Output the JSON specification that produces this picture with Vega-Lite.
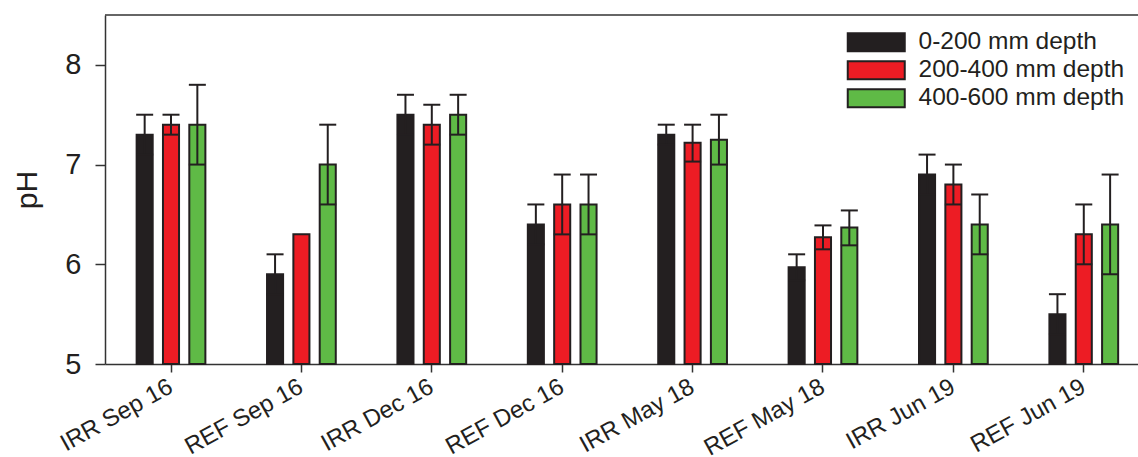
{
  "$schema": "https://vega.github.io/schema/vega-lite/v6.json",
  "width": 1033,
  "height": 349,
  "autosize": {"type": "none"},
  "padding": {"left": 105, "top": 15, "right": 0, "bottom": 93},
  "background": "white",
  "config": {
    "view": {"stroke": null},
    "font": "Liberation Sans",
    "axis": {"domainColor": "#333333", "domainWidth": 1.5, "tickColor": "#333333", "tickWidth": 1.5, "grid": false, "labelColor": "#231f20", "titleColor": "#231f20", "labelLimit": 400}
  },
  "data": {
    "values": [
      {"cat": "IRR Sep 16", "depth": "0-200 mm depth", "ph": 7.3, "lo": 7.1, "hi": 7.5},
      {"cat": "IRR Sep 16", "depth": "200-400 mm depth", "ph": 7.4, "lo": 7.3, "hi": 7.5},
      {"cat": "IRR Sep 16", "depth": "400-600 mm depth", "ph": 7.4, "lo": 7.0, "hi": 7.8},
      {"cat": "REF Sep 16", "depth": "0-200 mm depth", "ph": 5.9, "lo": 5.7, "hi": 6.1},
      {"cat": "REF Sep 16", "depth": "200-400 mm depth", "ph": 6.3, "lo": null, "hi": null},
      {"cat": "REF Sep 16", "depth": "400-600 mm depth", "ph": 7.0, "lo": 6.6, "hi": 7.4},
      {"cat": "IRR Dec 16", "depth": "0-200 mm depth", "ph": 7.5, "lo": 7.3, "hi": 7.7},
      {"cat": "IRR Dec 16", "depth": "200-400 mm depth", "ph": 7.4, "lo": 7.2, "hi": 7.6},
      {"cat": "IRR Dec 16", "depth": "400-600 mm depth", "ph": 7.5, "lo": 7.3, "hi": 7.7},
      {"cat": "REF Dec 16", "depth": "0-200 mm depth", "ph": 6.4, "lo": 6.2, "hi": 6.6},
      {"cat": "REF Dec 16", "depth": "200-400 mm depth", "ph": 6.6, "lo": 6.3, "hi": 6.9},
      {"cat": "REF Dec 16", "depth": "400-600 mm depth", "ph": 6.6, "lo": 6.3, "hi": 6.9},
      {"cat": "IRR May 18", "depth": "0-200 mm depth", "ph": 7.3, "lo": 7.2, "hi": 7.4},
      {"cat": "IRR May 18", "depth": "200-400 mm depth", "ph": 7.22, "lo": 7.03, "hi": 7.4},
      {"cat": "IRR May 18", "depth": "400-600 mm depth", "ph": 7.25, "lo": 7.0, "hi": 7.5},
      {"cat": "REF May 18", "depth": "0-200 mm depth", "ph": 5.97, "lo": 5.84, "hi": 6.1},
      {"cat": "REF May 18", "depth": "200-400 mm depth", "ph": 6.27, "lo": 6.15, "hi": 6.39},
      {"cat": "REF May 18", "depth": "400-600 mm depth", "ph": 6.37, "lo": 6.19, "hi": 6.54},
      {"cat": "IRR Jun 19", "depth": "0-200 mm depth", "ph": 6.9, "lo": 6.7, "hi": 7.1},
      {"cat": "IRR Jun 19", "depth": "200-400 mm depth", "ph": 6.8, "lo": 6.6, "hi": 7.0},
      {"cat": "IRR Jun 19", "depth": "400-600 mm depth", "ph": 6.4, "lo": 6.1, "hi": 6.7},
      {"cat": "REF Jun 19", "depth": "0-200 mm depth", "ph": 5.5, "lo": 5.3, "hi": 5.7},
      {"cat": "REF Jun 19", "depth": "200-400 mm depth", "ph": 6.3, "lo": 6.0, "hi": 6.6},
      {"cat": "REF Jun 19", "depth": "400-600 mm depth", "ph": 6.4, "lo": 5.9, "hi": 6.9}
    ]
  },
  "layer": [
    {
      "mark": {"type": "bar", "stroke": "#231f20", "strokeWidth": 2},
      "encoding": {
        "x": {
          "field": "cat", "type": "nominal",
          "sort": ["IRR Sep 16", "REF Sep 16", "IRR Dec 16", "REF Dec 16", "IRR May 18", "REF May 18", "IRR Jun 19", "REF Jun 19"],
          "scale": {"paddingInner": 0.394, "paddingOuter": 0.158, "align": 0.643},
          "axis": {"title": null, "labelAngle": -29, "labelAlign": "right", "labelBaseline": "middle", "labelFontSize": 24, "labelPadding": 13, "tickSize": 8}
        },
        "xOffset": {"field": "depth", "type": "nominal", "scale": {"paddingInner": 0.39, "paddingOuter": 0.195}},
        "y": {
          "field": "ph", "type": "quantitative",
          "scale": {"domain": [5, 8.5], "nice": false, "zero": false},
          "axis": {"title": "pH", "values": [5, 6, 7, 8], "format": "d", "tickSize": 10, "labelFontSize": 29, "labelPadding": 14, "titleFontSize": 30, "titleFontWeight": "normal", "titlePadding": 22}
        },
        "y2": {"datum": 5},
        "color": {
          "field": "depth", "type": "nominal",
          "scale": {"domain": ["0-200 mm depth", "200-400 mm depth", "400-600 mm depth"], "range": ["#231f20", "#ed1c24", "#5fba46"]},
          "legend": {
            "title": null, "orient": "none", "legendX": 759, "legendY": 15,
            "symbolType": "M-3,-0.95H3V0.95H-3Z", "symbolSize": 361,
            "symbolStrokeColor": "#231f20", "symbolStrokeWidth": 2, "symbolOpacity": 1,
            "labelFontSize": 24.5, "labelColor": "#231f20", "labelOffset": 30, "labelLimit": 400, "rowPadding": 1, "padding": 0
          }
        }
      }
    },
    {
      "mark": {"type": "rule", "color": "#231f20", "strokeWidth": 2},
      "encoding": {
        "x": {"field": "cat", "type": "nominal", "sort": ["IRR Sep 16", "REF Sep 16", "IRR Dec 16", "REF Dec 16", "IRR May 18", "REF May 18", "IRR Jun 19", "REF Jun 19"]},
        "xOffset": {"field": "depth", "type": "nominal"},
        "y": {"field": "lo", "type": "quantitative"},
        "y2": {"field": "hi"}
      }
    },
    {
      "mark": {"type": "tick", "color": "#231f20", "size": 17, "thickness": 2, "opacity": 1},
      "encoding": {
        "x": {"field": "cat", "type": "nominal", "sort": ["IRR Sep 16", "REF Sep 16", "IRR Dec 16", "REF Dec 16", "IRR May 18", "REF May 18", "IRR Jun 19", "REF Jun 19"]},
        "xOffset": {"field": "depth", "type": "nominal"},
        "y": {"field": "lo", "type": "quantitative"}
      }
    },
    {
      "mark": {"type": "tick", "color": "#231f20", "size": 17, "thickness": 2, "opacity": 1},
      "encoding": {
        "x": {"field": "cat", "type": "nominal", "sort": ["IRR Sep 16", "REF Sep 16", "IRR Dec 16", "REF Dec 16", "IRR May 18", "REF May 18", "IRR Jun 19", "REF Jun 19"]},
        "xOffset": {"field": "depth", "type": "nominal"},
        "y": {"field": "hi", "type": "quantitative"}
      }
    },
    {
      "data": {"values": [{"top": 8.5}]},
      "mark": {"type": "rule", "color": "#333333", "strokeWidth": 1.5},
      "encoding": {"y": {"field": "top", "type": "quantitative"}}
    }
  ]
}
